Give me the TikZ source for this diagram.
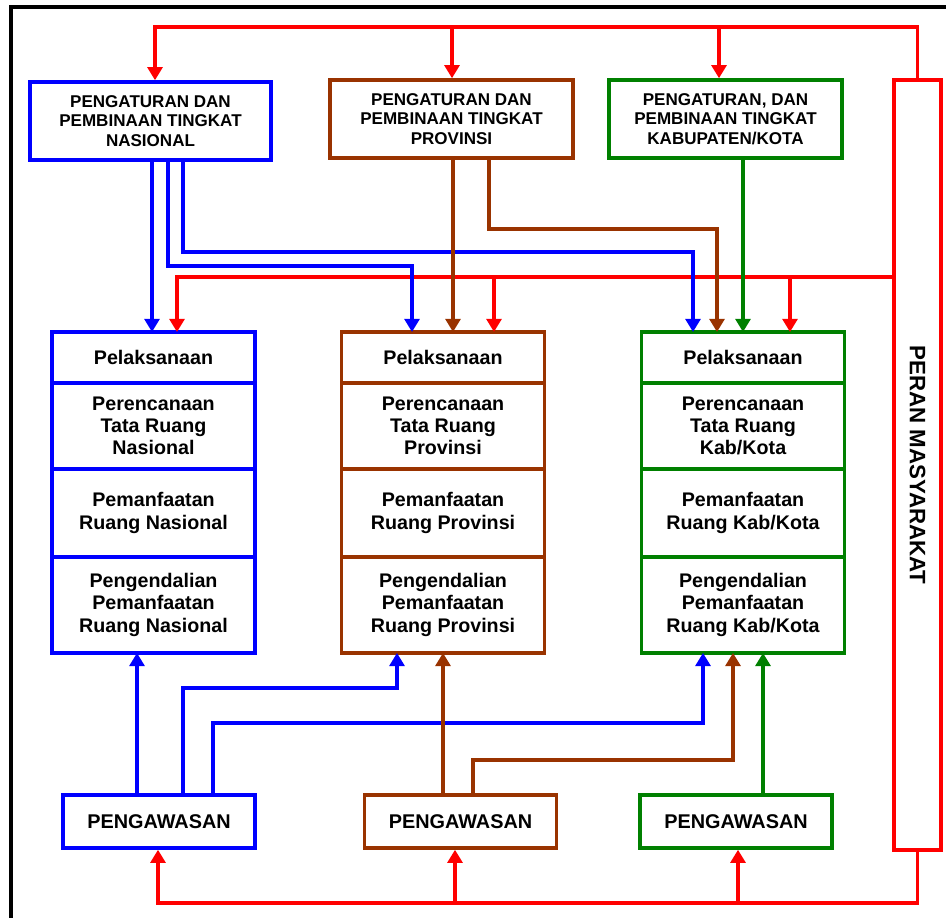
\documentclass[tikz,border=0pt]{standalone}
\usepackage{fontspec}
\setmainfont{Liberation Sans}
\usepackage{xcolor}
\usetikzlibrary{arrows, arrows.meta}
\usetikzlibrary{positioning}
\usetikzlibrary{calc}
\definecolor{nasBlue}{RGB}{0,0,255}
\definecolor{provBrown}{RGB}{153,51,0}
\definecolor{kabGreen}{RGB}{0,128,0}
\definecolor{peranRed}{RGB}{255,0,0}
\tikzset{
	aturbox/.style={draw, line width=2pt, fill=white, align=center, minimum height=1.56cm, font=\bfseries\fontsize{9.7}{11}\selectfont},
	secbox/.style={draw, line width=2pt, align=center, outer sep=0pt, minimum width=4.06cm, font=\bfseries\fontsize{11.2}{12.7}\selectfont},
	awasbox/.style={draw, line width=2pt, align=center, minimum width=3.84cm, minimum height=1.06cm, font=\bfseries\fontsize{11.3}{13}\selectfont},
	flow/.style={line width=2pt, ->}
}

\begin{document}
\begin{tikzpicture}[x=0.02cm, y=-0.02cm, >={Triangle[width=8.5pt,length=7.5pt]}]
				\useasboundingbox (0,0) rectangle (946,918);
				\clip (0,0) rectangle (946,918);
				
				% Draw the outer frame
				\draw[line width=2pt] (11,980) |- (990,7);
				
				% Draw the pengaturan boxes
				\node[aturbox, draw=nasBlue, minimum width=4.82cm] (nasAtur) at (150.5,121) {PENGATURAN DAN\\PEMBINAAN TINGKAT\\NASIONAL};
				\node[aturbox, draw=provBrown, minimum width=4.86cm] (provAtur) at (451.5,119) {PENGATURAN DAN\\PEMBINAAN TINGKAT\\PROVINSI};
				\node[aturbox, draw=kabGreen, minimum width=4.66cm] (kabAtur) at (725.5,119) {PENGATURAN, DAN\\PEMBINAAN TINGKAT\\KABUPATEN/KOTA};
				
				% Draw the pelaksanaan columns
				\node[secbox, draw=nasBlue, minimum height=1.02cm] (nasLaks) at (153.5,357.5) {Pelaksanaan};
				\node[secbox, draw=nasBlue, minimum height=1.72cm, below=0pt of nasLaks] (nasRenc) {Perencanaan\\Tata Ruang\\Nasional};
				\node[secbox, draw=nasBlue, minimum height=1.76cm, below=0pt of nasRenc] (nasManf) {Pemanfaatan\\Ruang Nasional};
				\node[secbox, draw=nasBlue, minimum height=1.92cm, below=0pt of nasManf] (nasDali) {Pengendalian\\Pemanfaatan\\Ruang Nasional};
				
				\node[secbox, draw=provBrown, minimum height=1.02cm] (provLaks) at (443,357.5) {Pelaksanaan};
				\node[secbox, draw=provBrown, minimum height=1.72cm, below=0pt of provLaks] (provRenc) {Perencanaan\\Tata Ruang\\Provinsi};
				\node[secbox, draw=provBrown, minimum height=1.76cm, below=0pt of provRenc] (provManf) {Pemanfaatan\\Ruang Provinsi};
				\node[secbox, draw=provBrown, minimum height=1.92cm, below=0pt of provManf] (provDali) {Pengendalian\\Pemanfaatan\\Ruang Provinsi};
				
				\node[secbox, draw=kabGreen, minimum height=1.02cm] (kabLaks) at (743,357.5) {Pelaksanaan};
				\node[secbox, draw=kabGreen, minimum height=1.72cm, below=0pt of kabLaks] (kabRenc) {Perencanaan\\Tata Ruang\\Kab/Kota};
				\node[secbox, draw=kabGreen, minimum height=1.76cm, below=0pt of kabRenc] (kabManf) {Pemanfaatan\\Ruang Kab/Kota};
				\node[secbox, draw=kabGreen, minimum height=1.92cm, below=0pt of kabManf] (kabDali) {Pengendalian\\Pemanfaatan\\Ruang Kab/Kota};
				
				% Draw the pengawasan boxes
				\node[awasbox, draw=nasBlue] (nasAwas) at (159,821.5) {PENGAWASAN};
				\node[awasbox, draw=provBrown] (provAwas) at (460.5,821.5) {PENGAWASAN};
				\node[awasbox, draw=kabGreen] (kabAwas) at (736,821.5) {PENGAWASAN};
				
				% Draw the peran masyarakat bar
				\node[draw=peranRed, line width=2pt, minimum width=15.4cm, minimum height=0.94cm, rotate=-90, font=\bfseries\fontsize{12.7}{14}\selectfont] (peran) at (917.5,465) {PERAN MASYARAKAT};
				
				% Draw the red lines from the bar
				\draw[flow, peranRed] (peran.west) |- (155,27) -- (nasAtur.north -| 155,0);
				\draw[flow, peranRed] (452,27) -- (provAtur.north -| 452,0);
				\draw[flow, peranRed] (719,27) -- (kabAtur.north -| 719,0);
				\draw[flow, peranRed] (peran.south |- 0,277) -| (nasLaks.north -| 177,0);
				\draw[flow, peranRed] (494,277) -- (provLaks.north -| 494,0);
				\draw[flow, peranRed] (790,277) -- (kabLaks.north -| 790,0);
				\draw[flow, peranRed] (peran.east) |- (158,903) -- (nasAwas.south -| 158,0);
				\draw[flow, peranRed] (455,903) -- (provAwas.south -| 455,0);
				\draw[flow, peranRed] (738,903) -- (kabAwas.south -| 738,0);
				
				% Draw the lines from the pengaturan boxes
				\draw[flow, nasBlue] (nasAtur.south -| 152,0) -- (nasLaks.north -| 152,0);
				\draw[flow, nasBlue] (nasAtur.south -| 168,0) -- (168,266) -| (provLaks.north -| 412,0);
				\draw[flow, nasBlue] (nasAtur.south -| 183,0) -- (183,252) -| (kabLaks.north -| 693,0);
				\draw[flow, provBrown] (provAtur.south -| 453,0) -- (provLaks.north -| 453,0);
				\draw[flow, provBrown] (provAtur.south -| 489,0) -- (489,229) -| (kabLaks.north -| 717,0);
				\draw[flow, kabGreen] (kabAtur.south -| 743,0) -- (kabLaks.north -| 743,0);
				
				% Draw the lines from the pengawasan boxes
				\draw[flow, nasBlue] (nasAwas.north -| 137,0) -- (nasDali.south -| 137,0);
				\draw[flow, nasBlue] (nasAwas.north -| 183,0) -- (183,688) -| (provDali.south -| 397,0);
				\draw[flow, nasBlue] (nasAwas.north -| 213,0) -- (213,723) -| (kabDali.south -| 703,0);
				\draw[flow, provBrown] (provAwas.north -| 443,0) -- (provDali.south -| 443,0);
				\draw[flow, provBrown] (provAwas.north -| 473,0) -- (473,760) -| (kabDali.south -| 733,0);
				\draw[flow, kabGreen] (kabAwas.north -| 763,0) -- (kabDali.south -| 763,0);
			\end{tikzpicture}
\end{document}
